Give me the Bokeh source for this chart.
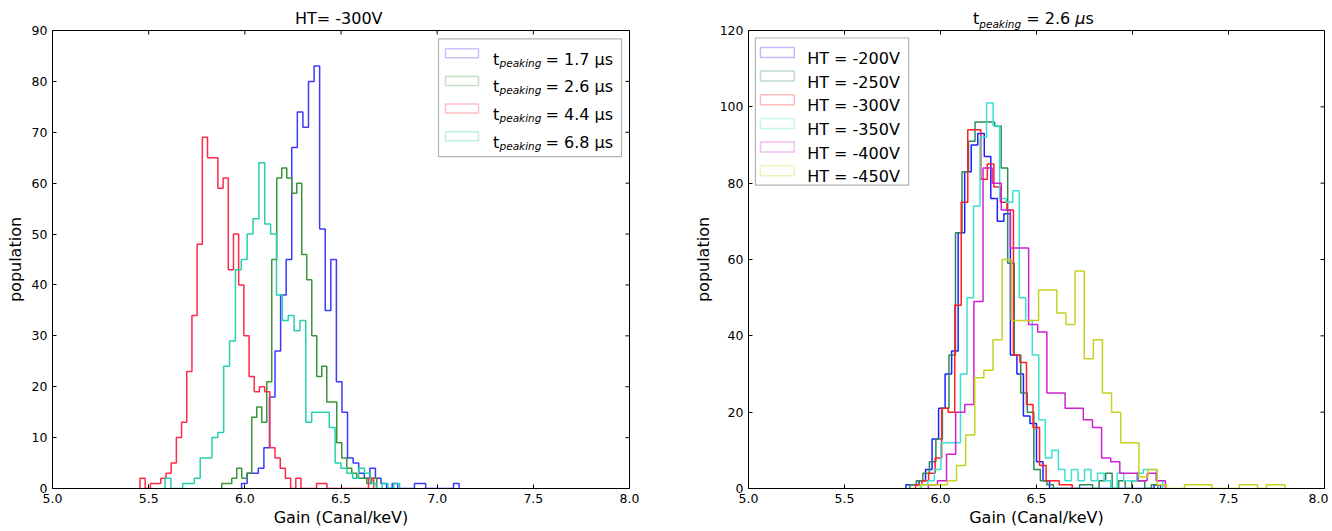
import numpy as np
from bokeh.plotting import figure
from bokeh.layouts import row, column
from bokeh.models import Label, BoxAnnotation, FixedTicker, PrintfTickFormatter, Range1d, Div
from bokeh.embed import file_html
from bokeh.resources import INLINE

FONT = "DejaVu Sans"

# ---------------- data: left panel (HT = -300V), histograms per peaking time ----------------
left_title = "HT= -300V"
left_tpeak = ["1.7", "2.6", "4.4", "6.8"]
left_colors = ["#3b3bff", "#3a963a", "#ff2a4a", "#26d0ae"]

tp17_start, tp17_width = 5.983, 0.029
tp17_counts = [1, 3, 3, 4, 8, 18, 27, 38, 45, 67, 74, 71, 80, 83, 51, 35, 45, 21, 15, 6,
               5, 3, 2, 4, 2, 1, 0, 1, 0, 0, 0, 1, 1, 0, 0, 0, 0, 0, 1]

tp26_start, tp26_width = 5.880, 0.026
tp26_counts = [1, 1, 2, 4, 2, 3, 14, 16, 13, 21, 45, 61, 63, 61, 58, 60, 46, 41, 30, 22,
               24, 17, 17, 9, 6, 4, 3, 2, 2, 1, 2]

tp44_start, tp44_width = 5.455, 0.027
tp44_counts = [2, 0, 1, 1, 2, 3, 5, 10, 13, 23, 34, 48, 69, 65, 65, 59, 61, 43, 50, 40,
               30, 22, 19, 20, 19, 8, 6, 4, 2, 0, 2, 0, 0, 0, 1, 1, 0, 0, 0, 0, 0, 0, 0, 0, 2]

tp68_start, tp68_width = 5.585, 0.0305
tp68_counts = [2, 0, 0, 1, 1, 2, 6, 6, 10, 11, 24, 29, 43, 45, 50, 53, 64, 52, 50, 38,
               33, 34, 31, 33, 13, 15, 15, 15, 12, 5, 4, 3, 2, 4, 3, 1, 0, 1, 0, 1]

# ---------------- data: right panel (t_peaking = 2.6 us), histograms per HT ----------------
right_tpeak = "2.6"
right_labels = ["HT = -200V", "HT = -250V", "HT = -300V", "HT = -350V", "HT = -400V", "HT = -450V"]
right_colors = ["#2020ff", "#2e8b57", "#ff2020", "#3ee0d2", "#d020d0", "#c8d21e"]

ht200_start, ht200_width = 5.820, 0.034
ht200_counts = [1, 1, 2, 5, 13, 21, 30, 36, 67, 83, 90, 93, 87, 76, 70, 72, 35, 30, 19, 17,
                7, 2, 0, 0, 0, 0, 0, 0, 0, 0, 0, 0, 0, 0, 0, 0, 0, 0, 1]

ht250_start, ht250_width = 5.840, 0.034
ht250_counts = [1, 2, 4, 7, 13, 21, 35, 67, 83, 91, 96, 96, 96, 95, 84, 59, 35, 25, 20, 5,
                2, 1, 0, 0, 0, 0, 1, 1, 0, 2, 4, 0, 2, 0, 2, 2, 0, 1]

ht300_start, ht300_width = 5.870, 0.034
ht300_counts = [1, 2, 4, 8, 21, 20, 48, 75, 94, 94, 81, 85, 79, 75, 73, 35, 33, 22, 16, 6,
                2, 2, 1, 1]

ht350_start, ht350_width = 5.900, 0.034
ht350_counts = [1, 2, 5, 12, 12, 12, 30, 50, 74, 92, 101, 95, 76, 75, 78, 50, 44, 35, 18, 8,
                10, 5, 2, 5, 2, 5, 2, 4, 2, 0, 4, 2, 2, 4, 5, 5, 2]

ht400_start, ht400_width = 5.9365, 0.0475
ht400_counts = [1, 2, 9, 20, 22, 49, 84, 80, 73, 63, 63, 43, 41, 25, 25, 21, 21, 18, 16, 8,
                7, 4, 4, 2, 4, 2]

ht450_start, ht450_width = 5.8935, 0.0475
ht450_counts = [1, 1, 1, 2, 6, 14, 29, 31, 39, 60, 44, 44, 44, 52, 52, 46, 43, 57, 34, 39,
                25, 20, 12, 12, 3, 5, 1, 0, 0, 1, 1, 1, 0, 0, 0, 1, 1, 0, 1, 1]

x_ticks = [5.0, 5.5, 6.0, 6.5, 7.0, 7.5, 8.0]
left_yticks = [0, 10, 20, 30, 40, 50, 60, 70, 80, 90]
right_yticks = [0, 20, 40, 60, 80, 100, 120]
x_label = "Gain (Canal/keV)"
y_label = "population"

left_series = [(tp17_start, tp17_width, tp17_counts), (tp26_start, tp26_width, tp26_counts),
               (tp44_start, tp44_width, tp44_counts), (tp68_start, tp68_width, tp68_counts)]
right_series = [(ht200_start, ht200_width, ht200_counts), (ht250_start, ht250_width, ht250_counts),
                (ht300_start, ht300_width, ht300_counts), (ht350_start, ht350_width, ht350_counts),
                (ht400_start, ht400_width, ht400_counts), (ht450_start, ht450_width, ht450_counts)]


def outline(start, width, counts):
    c = np.asarray(counts, dtype=float)
    edges = start + width * np.arange(len(c) + 1)
    xs = np.repeat(edges, 2)
    ys = np.concatenate([[0.0], np.repeat(c, 2), [0.0]])
    return xs, ys


# ---------------- layout geometry (page pixels) ----------------
TITLE_H = 22
FIG_H = 507
TOP, BOT = 8, 40
FRAME_H = FIG_H - TOP - BOT          # 459 -> frame from y=30 to y=489
L_BL, L_FW, L_BR = 52, 577, 61       # left frame x 52..629
R_BL, R_FW, R_BR = 55, 579, 4        # right frame x 745..1324
LW = L_BL + L_FW + L_BR
RW = R_BL + R_FW + R_BR
FRAME_TOP = TITLE_H + TOP
FRAME_BOT = FRAME_TOP + FRAME_H
TICK = 4


def make_fig(width, ymax, yticks, bl, br, fw):
    p = figure(width=width, height=FIG_H, x_range=Range1d(5, 8), y_range=Range1d(0, ymax),
               output_backend="svg", toolbar_location=None, title=None,
               min_border_left=bl, min_border_right=br, min_border_top=TOP, min_border_bottom=BOT)
    p.background_fill_color = "white"
    p.border_fill_color = None
    p.outline_line_color = "black"
    p.outline_line_alpha = 1.0
    p.outline_line_width = 1
    p.grid.visible = False
    p.xaxis.ticker = FixedTicker(ticks=x_ticks)
    p.xaxis.formatter = PrintfTickFormatter(format="%.1f")
    p.yaxis.ticker = FixedTicker(ticks=yticks)
    for ax in (p.xaxis[0], p.yaxis[0]):
        ax.major_tick_in = TICK
        ax.major_tick_out = 0
        ax.minor_tick_line_color = None
        ax.axis_line_color = "black"
        ax.major_tick_line_color = "black"
        ax.major_label_text_font = FONT
        ax.major_label_text_font_size = "12.5px"
        ax.major_label_text_color = "black"
        ax.major_label_standoff = 5
        ax.axis_label_text_font = FONT
        ax.axis_label_text_font_size = "16px"
        ax.axis_label_text_font_style = "normal"
        ax.axis_label_text_color = "black"
    p.yaxis.axis_label = y_label
    p.yaxis.axis_label_standoff = 4
    p.xaxis.axis_label = x_label
    p.xaxis.axis_label_standoff = 2
    # mirrored inward ticks on top and right edges
    ypx = FRAME_H / ymax
    xpx = fw / 3.0
    n, m = len(x_ticks), len(yticks)
    p.segment(x0=x_ticks, y0=[ymax] * n, x1=x_ticks, y1=[ymax - TICK / ypx] * n,
              line_color="black", line_width=1)
    p.segment(x0=[8] * m, y0=yticks, x1=[8 - TICK / xpx] * m, y1=yticks,
              line_color="black", line_width=1)
    return p


def add_text(p, x, y, text, size="16px", style="normal", align="left", baseline="alphabetic"):
    p.add_layout(Label(x=x, y=y, text=text, text_font=FONT, text_font_size=size,
                       text_font_style=style, text_align=align, text_baseline=baseline,
                       text_color="black"))


def title_div(html, width):
    return Div(text=html, width=width, height=TITLE_H, margin=(0, 0, 0, 0),
               styles={"font-family": FONT, "font-size": "16px", "color": "black",
                       "overflow": "visible", "z-index": "5"})


# ---------------- left figure ----------------
pl = make_fig(LW, 90, left_yticks, L_BL, L_BR, L_FW)


def lx(px):
    return 5 + (px - L_BL) * 3 / L_FW


def ly(py):
    return (FRAME_BOT - py) * 90 / FRAME_H


for (s, w, c), col in zip(left_series, left_colors):
    xs, ys = outline(s, w, c)
    pl.line(xs, ys, line_color=col, line_width=1.5)

pl.add_layout(BoxAnnotation(left=lx(438), right=lx(621), top=ly(38.3), bottom=ly(156.5),
                            fill_color="white", fill_alpha=1, line_color="black", line_width=1.2))
for i, (tp, col) in enumerate(zip(left_tpeak, left_colors)):
    cy = 52.8 + 27.7 * i
    pl.add_layout(BoxAnnotation(left=lx(445), right=lx(478), top=ly(cy - 4.5), bottom=ly(cy + 4.5),
                                fill_alpha=0, line_color=col, line_width=1.5))
    add_text(pl, lx(492.5), ly(cy + 6), "t")
    add_text(pl, lx(499), ly(cy + 9.5), "peaking", size="10.5px", style="italic")
    add_text(pl, lx(545), ly(cy + 6), "= " + tp + " \u03bcs")

left_head = title_div(
    '<div style="margin-left:295px;padding-top:10px;line-height:18px;white-space:nowrap;">'
    + left_title + '</div>', LW)

# ---------------- right figure ----------------
pr = make_fig(RW, 120, right_yticks, R_BL, R_BR, R_FW)
R_X0 = LW + R_BL  # page x of right frame left edge (745)


def rx(px):
    return 5 + (px - R_X0) * 3 / R_FW


def ry(py):
    return (FRAME_BOT - py) * 120 / FRAME_H


for (s, w, c), col in zip(right_series, right_colors):
    xs, ys = outline(s, w, c)
    pr.line(xs, ys, line_color=col, line_width=1.5)

pr.add_layout(BoxAnnotation(left=rx(752), right=rx(906), top=ry(37.5), bottom=ry(185),
                            fill_color="white", fill_alpha=1, line_color="black", line_width=1.2))
for i, (lab, col) in enumerate(zip(right_labels, right_colors)):
    cy = 52.0 + 23.7 * i
    pr.add_layout(BoxAnnotation(left=rx(757), right=rx(791), top=ry(cy - 5), bottom=ry(cy + 5),
                                fill_alpha=0, line_color=col, line_width=1.5))
    add_text(pr, rx(804), ry(cy + 6), lab)

right_head = title_div(
    '<div style="margin-left:%dpx;padding-top:10px;line-height:18px;white-space:nowrap;">'
    't<sub style="font-style:italic;font-size:10.5px;">peaking</sub> = %s <i>\u03bc</i>s</div>'
    % (973 - LW, right_tpeak), RW)

layout = row(column(left_head, pl, spacing=0), column(right_head, pr, spacing=0), spacing=0)
open("out.html", "w").write(file_html(layout, INLINE))
